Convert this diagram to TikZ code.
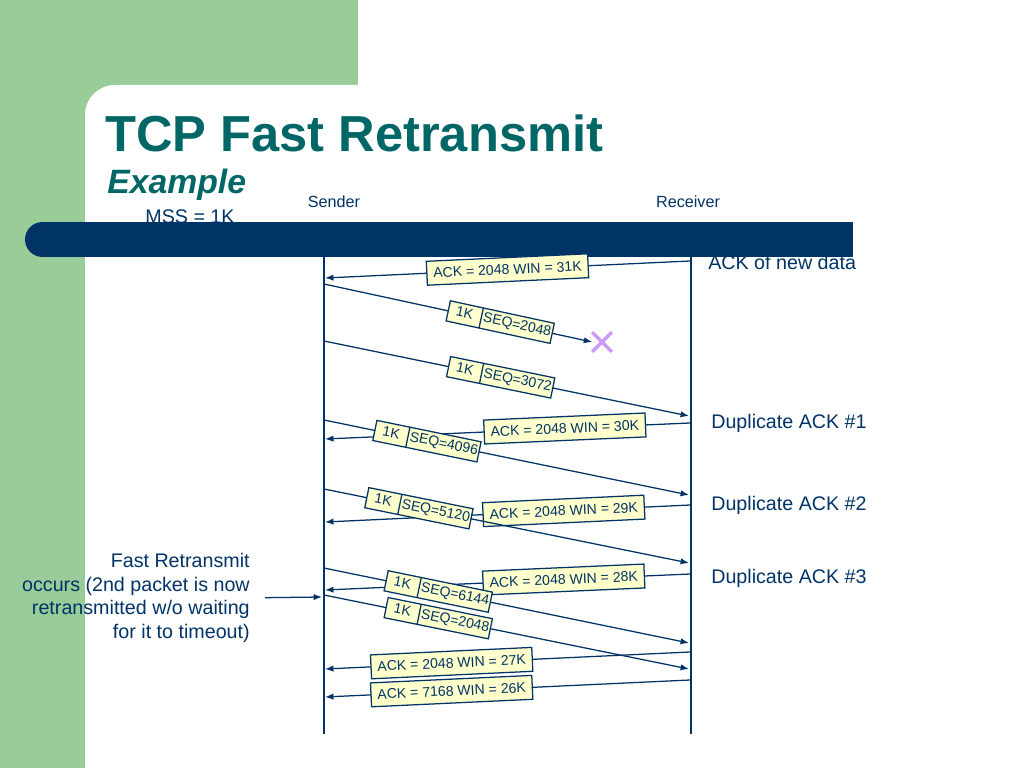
\documentclass[tikz,border=0pt]{standalone}
\usepackage{fontspec}
\setmainfont{Liberation Sans}
\usepackage{xcolor}
\usetikzlibrary{arrows.meta, shapes.multipart, shapes.misc}

\definecolor{slidegreen}{RGB}{153,204,153}
\definecolor{darkblue}{RGB}{0,51,102}
\definecolor{titleteal}{RGB}{0,102,102}
\definecolor{paleyellow}{RGB}{255,255,204}
\definecolor{lostpurple}{RGB}{204,153,255}
\newcommand{\pktstrut}{\rule[-2.5pt]{0pt}{10pt}}
\newcommand{\pktsize}{\makebox[21.5pt]{1K}}

\begin{document}
\begin{tikzpicture}[x=0.025cm, y=-0.025cm,
    txt/.style={inner sep=0pt, text=darkblue},
    ackbox/.style={rectangle, draw=darkblue, fill=paleyellow, text=darkblue,
                   sloped, inner xsep=4.6pt, inner ysep=0pt, minimum height=17pt,
                   font=\fontsize{10pt}{12pt}\selectfont},
    pktbox/.style={rectangle split, rectangle split horizontal, rectangle split parts=2,
                   draw=darkblue, fill=paleyellow, text=darkblue, sloped,
                   inner xsep=1pt, inner ysep=2.3pt, font=\fontsize{10pt}{12pt}\selectfont},
    msg/.style={-{Latex[length=6pt,width=4.5pt]}, darkblue, line width=0.9pt},
    lifeline/.style={darkblue, line width=0.9pt}
]
\useasboundingbox (0,0) rectangle (1024,768);
\fill[slidegreen] (0,0) rectangle (358,768);
\fill[white] (85,768) [rounded corners=0.75cm] -- (85,85) [sharp corners] -- (1024,85) -- (1024,768) -- cycle;

% titles
\node[txt, text=titleteal, anchor=base west, font=\fontsize{36pt}{40pt}\selectfont\bfseries] (title) at (105,152) {TCP Fast Retransmit};
\node[txt, text=titleteal, anchor=base west, font=\fontsize{24pt}{28pt}\selectfont\bfseries\itshape] (example) at (107,193) {Example};
\node[txt, anchor=base, font=\fontsize{14pt}{17pt}\selectfont] (mss) at (190,223) {MSS = 1K};
\node[txt, anchor=base, font=\fontsize{11.5pt}{14pt}\selectfont] (sender) at (334,207) {Sender};
\node[txt, anchor=base, font=\fontsize{11.5pt}{14pt}\selectfont] (receiver) at (688,207) {Receiver};
\node[txt, anchor=base west, font=\fontsize{14pt}{17pt}\selectfont] (newdata) at (708,269) {ACK of new data};

% bar
\fill[darkblue] (42.5,222) rectangle (853,257);
\fill[darkblue] (42.5,239.5) circle (17.5);

% lifelines
\coordinate (sendtop) at (324,257);
\coordinate (sendbot) at (324,734);
\coordinate (recvtop) at (691,257);
\coordinate (recvbot) at (691,734);
\draw[lifeline] (sendtop) -- (sendbot);
\draw[lifeline] (recvtop) -- (recvbot);

\node[txt, anchor=base west, font=\fontsize{14pt}{17pt}\selectfont] (dup1) at (711,428) {Duplicate ACK \#1};
\node[txt, anchor=base west, font=\fontsize{14pt}{17pt}\selectfont] (dup2) at (711,510) {Duplicate ACK \#2};
\node[txt, anchor=base west, font=\fontsize{14pt}{17pt}\selectfont] (dup3) at (711,583) {Duplicate ACK \#3};

% acks
\coordinate (ackr1) at (690,261); \coordinate (acks1) at (325,278);
\coordinate (ackr2) at (690,423); \coordinate (acks2) at (325,439);
\coordinate (ackr3) at (690,505); \coordinate (acks3) at (325,522);
\coordinate (ackr4) at (690,574); \coordinate (acks4) at (325,590);
\coordinate (ackr5) at (690,652); \coordinate (acks5) at (325,669);
\coordinate (ackr6) at (690,680); \coordinate (acks6) at (325,697);

\foreach \n/\p/\t in {1/0.5/{ACK = 2048 WIN = 31K}, 2/0.343/{ACK = 2048 WIN = 30K},
                      3/0.346/{ACK = 2048 WIN = 29K}, 4/0.346/{ACK = 2048 WIN = 28K},
                      5/0.653/{ACK = 2048 WIN = 27K}, 6/0.653/{ACK = 7168 WIN = 26K}}
    \draw[msg] (ackr\n) -- node[ackbox, pos=\p] (ack\n) {\t} (acks\n);

% data packets
\node[cross out, draw=lostpurple, line width=2.5pt, minimum size=11.4pt, inner sep=0pt] (lost) at (602,342) {};
\coordinate (seqs1) at (324,284);
\coordinate (seqs2) at (324,341); \coordinate (seqr2) at (689,416);
\coordinate (seqs3) at (324,420); \coordinate (seqr3) at (689,495);
\coordinate (seqs4) at (324,489); \coordinate (seqr4) at (689,563);
\coordinate (seqs5) at (324,568); \coordinate (seqr5) at (689,643);
\coordinate (seqs6) at (324,595); \coordinate (seqr6) at (689,669);

\draw[msg] (seqs1) -- node[pktbox, pos=0.657] (pkt1)
    {\pktstrut\pktsize\nodepart{two}\pktstrut SEQ=2048} (lost.west);
\foreach \n/\p/\s in {2/0.484/3072, 3/0.282/4096, 4/0.26/5120, 5/0.313/6144, 6/0.313/2048}
    \draw[msg] (seqs\n) -- node[pktbox, pos=\p] (pkt\n)
        {\pktstrut\pktsize\nodepart{two}\pktstrut SEQ=\s} (seqr\n);

% note
\node[txt, align=right, anchor=north east, font=\fontsize{14pt}{16.7pt}\selectfont] (note) at (250,553)
    {Fast Retransmit\\occurs (2nd packet is now\\retransmitted w/o waiting\\for it to timeout)};
\coordinate (rtx) at (322,597);
\draw[msg] (note.east) ++(15,0) -- (rtx);
\end{tikzpicture}
\end{document}
